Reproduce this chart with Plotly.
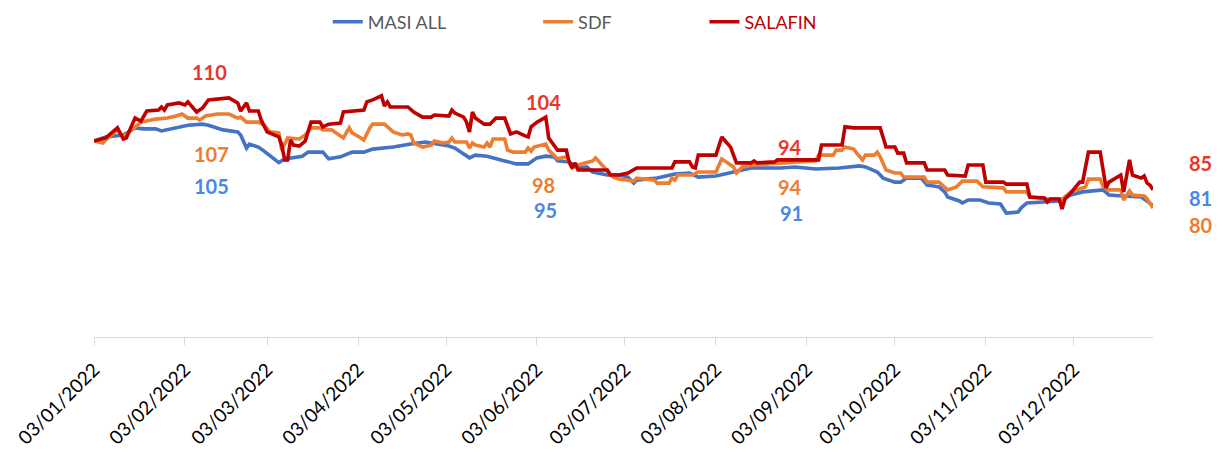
import plotly.graph_objects as go

# ---------------- data ----------------
tick_dates = ["2022-%02d-03" % m for m in range(1, 13)]
tick_labels = ["03/%02d/2022" % m for m in range(1, 13)]

masi_dates = ["2022-01-03","2022-01-07","2022-01-13","2022-01-17","2022-01-20","2022-01-24","2022-01-26","2022-01-31",
              "2022-02-04","2022-02-09","2022-02-11","2022-02-16","2022-02-21","2022-02-22","2022-02-24","2022-02-25","2022-02-28",
              "2022-03-02","2022-03-04","2022-03-07","2022-03-09","2022-03-15","2022-03-17","2022-03-22","2022-03-24","2022-03-28",
              "2022-04-01","2022-04-05","2022-04-08","2022-04-15","2022-04-21","2022-04-26",
              "2022-05-02","2022-05-04","2022-05-06","2022-05-10","2022-05-11","2022-05-13","2022-05-17","2022-05-23","2022-05-27","2022-05-31",
              "2022-06-03","2022-06-06","2022-06-09","2022-06-10","2022-06-14","2022-06-17","2022-06-20","2022-06-22","2022-06-27",
              "2022-07-01","2022-07-04","2022-07-06","2022-07-07","2022-07-14","2022-07-19","2022-07-20","2022-07-25","2022-07-28",
              "2022-08-03","2022-08-09","2022-08-15","2022-08-19","2022-08-25","2022-08-30",
              "2022-09-06","2022-09-14","2022-09-21","2022-09-23","2022-09-27","2022-09-29",
              "2022-10-03","2022-10-05","2022-10-07","2022-10-12","2022-10-14","2022-10-18","2022-10-20","2022-10-21","2022-10-25","2022-10-26","2022-10-28",
              "2022-11-01","2022-11-04","2022-11-08","2022-11-10","2022-11-14","2022-11-15","2022-11-17","2022-11-23","2022-11-28",
              "2022-12-02","2022-12-06","2022-12-13","2022-12-15","2022-12-20","2022-12-26","2022-12-30"]
masi_values = [100.0,101.2,101.8,103.9,103.6,103.6,103.0,103.9,
               104.7,105.0,104.7,103.3,102.7,101.8,97.9,99.1,98.2,
               97.0,95.5,93.6,94.7,95.5,96.7,96.7,94.7,95.3,
               96.7,96.7,97.6,98.2,99.1,99.7,
               98.8,98.5,97.9,95.8,95.0,95.8,95.5,94.1,93.2,93.2,
               95.0,95.5,95.3,94.1,93.8,92.0,92.3,90.8,89.9,
               89.9,89.3,87.5,88.4,89.0,90.2,90.2,90.5,89.3,
               89.6,90.8,92.0,92.0,92.0,92.3,
               91.7,92.0,92.6,92.3,90.8,89.0,
               87.8,87.8,89.0,89.0,86.9,86.4,84.9,83.4,82.2,81.6,82.5,
               82.5,81.6,81.3,78.6,78.9,80.1,81.6,81.9,82.2,
               84.0,84.9,85.5,84.0,83.7,83.4,80.9]

sdf_dates = ["2022-01-03","2022-01-06","2022-01-07","2022-01-11","2022-01-13","2022-01-17","2022-01-19","2022-01-24","2022-01-28","2022-01-31",
             "2022-02-02","2022-02-04","2022-02-07","2022-02-08","2022-02-10","2022-02-14","2022-02-18","2022-02-21","2022-02-22","2022-02-24","2022-02-28",
             "2022-03-02","2022-03-04","2022-03-07","2022-03-08","2022-03-10","2022-03-14","2022-03-16","2022-03-18","2022-03-21","2022-03-22","2022-03-25","2022-03-29","2022-03-31",
             "2022-04-01","2022-04-04","2022-04-05","2022-04-07","2022-04-08","2022-04-12","2022-04-15","2022-04-18","2022-04-20","2022-04-21","2022-04-22","2022-04-25","2022-04-28","2022-04-29",
             "2022-05-02","2022-05-04","2022-05-05","2022-05-06","2022-05-10","2022-05-11","2022-05-12","2022-05-13","2022-05-16","2022-05-17","2022-05-18","2022-05-19","2022-05-23","2022-05-24","2022-05-26","2022-05-30","2022-05-31",
             "2022-06-01","2022-06-02","2022-06-06","2022-06-07","2022-06-10","2022-06-13","2022-06-15","2022-06-17","2022-06-22","2022-06-23","2022-06-27","2022-06-29",
             "2022-07-01","2022-07-04","2022-07-06","2022-07-07","2022-07-11","2022-07-13","2022-07-14","2022-07-18","2022-07-19","2022-07-20","2022-07-21","2022-07-26","2022-07-28",
             "2022-08-03","2022-08-05","2022-08-08","2022-08-09","2022-08-10","2022-08-12","2022-08-16","2022-08-25","2022-08-30",
             "2022-09-06","2022-09-07","2022-09-12","2022-09-13","2022-09-15","2022-09-16","2022-09-19","2022-09-20","2022-09-22","2022-09-23","2022-09-26","2022-09-27","2022-09-28","2022-09-30",
             "2022-10-03","2022-10-05","2022-10-06","2022-10-13","2022-10-14","2022-10-18","2022-10-20","2022-10-21","2022-10-24","2022-10-26","2022-10-31",
             "2022-11-02","2022-11-09","2022-11-10","2022-11-17","2022-11-18","2022-11-24","2022-11-29","2022-11-30",
             "2022-12-02","2022-12-07","2022-12-08","2022-12-12","2022-12-13","2022-12-15","2022-12-19","2022-12-20","2022-12-22","2022-12-23","2022-12-27","2022-12-28","2022-12-30"]
sdf_values = [100.0,99.4,100.3,103.3,101.2,104.2,105.6,106.5,106.8,107.4,
              108.0,106.8,106.8,106.2,107.4,108.0,108.0,106.8,107.1,105.6,105.6,
              104.7,102.7,102.4,97.3,100.9,100.6,101.8,103.9,103.9,103.3,103.3,100.9,103.9,
              102.4,100.9,100.3,103.9,105.0,105.0,102.7,101.8,102.1,101.8,99.4,98.2,98.8,100.0,
              99.4,99.7,100.9,99.7,99.7,97.9,99.4,98.8,98.2,99.4,98.2,100.6,100.6,97.3,96.7,96.7,97.9,
              97.0,98.2,99.1,97.3,94.7,95.3,92.0,92.9,94.1,95.0,91.1,89.3,
              88.7,88.4,88.1,89.0,88.7,88.4,87.5,87.5,89.0,88.4,89.9,89.9,90.8,
              90.8,94.7,92.9,92.3,90.5,92.3,92.9,93.5,93.8,
              94.1,95.8,95.8,97.3,97.3,98.2,97.6,96.4,94.4,95.8,95.8,96.7,95.3,91.4,
              90.5,90.5,89.3,89.3,87.8,87.8,86.4,85.5,86.4,88.1,88.1,
              86.4,86.1,84.9,84.9,83.4,82.8,82.8,83.4,
              84.9,86.4,88.7,88.7,86.4,85.5,85.5,82.5,85.2,84.0,83.7,82.8,80.1]

salafin_dates = ["2022-01-03","2022-01-07","2022-01-11","2022-01-13","2022-01-14","2022-01-17","2022-01-19","2022-01-21","2022-01-25","2022-01-26","2022-01-27","2022-01-28",
                 "2022-02-01","2022-02-03","2022-02-04","2022-02-07","2022-02-09","2022-02-11","2022-02-18","2022-02-21","2022-02-22","2022-02-24","2022-02-25","2022-02-28",
                 "2022-03-01","2022-03-03","2022-03-07","2022-03-08","2022-03-09","2022-03-10","2022-03-11","2022-03-12","2022-03-14","2022-03-16","2022-03-18","2022-03-21","2022-03-22","2022-03-24","2022-03-28","2022-03-29",
                 "2022-04-05","2022-04-06","2022-04-08","2022-04-11","2022-04-12","2022-04-13","2022-04-14","2022-04-20","2022-04-22","2022-04-25","2022-04-28","2022-04-29",
                 "2022-05-04","2022-05-05","2022-05-06","2022-05-09","2022-05-10","2022-05-11","2022-05-12","2022-05-13","2022-05-16","2022-05-18","2022-05-20","2022-05-23","2022-05-25","2022-05-27","2022-05-30","2022-05-31",
                 "2022-06-01","2022-06-03","2022-06-06","2022-06-07","2022-06-08","2022-06-10","2022-06-13","2022-06-14","2022-06-15","2022-06-16","2022-06-17","2022-06-27","2022-06-28",
                 "2022-07-01","2022-07-04","2022-07-06","2022-07-07","2022-07-19","2022-07-20","2022-07-25","2022-07-26","2022-07-27","2022-07-28",
                 "2022-08-03","2022-08-05","2022-08-08","2022-08-10","2022-08-15","2022-08-16","2022-08-17","2022-08-23","2022-08-24",
                 "2022-09-07","2022-09-08","2022-09-15","2022-09-16","2022-09-19","2022-09-28","2022-09-30",
                 "2022-10-03","2022-10-04","2022-10-06","2022-10-07","2022-10-13","2022-10-14","2022-10-20","2022-10-21","2022-10-27","2022-10-28",
                 "2022-11-02","2022-11-03","2022-11-09","2022-11-10","2022-11-17","2022-11-18","2022-11-23","2022-11-24","2022-11-25","2022-11-28","2022-11-29","2022-11-30",
                 "2022-12-02","2022-12-05","2022-12-06","2022-12-08","2022-12-12","2022-12-13","2022-12-14","2022-12-15","2022-12-19","2022-12-20","2022-12-22","2022-12-23","2022-12-26","2022-12-27","2022-12-28","2022-12-29","2022-12-30"]
salafin_values = [100.0,100.9,103.9,100.6,100.9,106.8,105.9,108.9,109.2,110.1,109.2,110.7,
                  111.3,110.7,111.6,108.6,109.8,112.2,112.8,111.3,108.9,111.3,108.9,108.9,
                  106.2,102.7,101.2,98.8,94.4,94.4,100.3,98.8,98.5,100.0,105.6,105.6,104.2,105.0,105.3,108.6,
                  109.2,111.6,112.2,113.4,110.4,111.6,110.1,110.1,108.6,107.1,107.1,107.7,
                  107.4,109.2,108.3,107.1,105.6,102.7,108.6,106.8,105.0,105.0,106.8,106.8,102.1,102.7,101.5,101.2,
                  104.2,105.6,107.1,100.9,99.7,97.3,97.3,93.8,92.0,93.5,91.4,91.4,89.9,
                  89.9,90.5,91.4,92.0,92.0,93.8,93.8,92.3,92.0,95.8,
                  95.8,101.2,98.2,93.5,93.5,94.1,93.5,93.8,94.4,
                  94.4,98.8,98.8,104.2,103.9,103.9,98.2,
                  98.2,96.4,96.4,93.5,93.5,91.4,91.4,89.9,89.6,92.9,
                  92.9,87.8,87.8,87.2,87.2,83.4,83.1,81.9,82.8,82.8,79.8,82.8,
                  84.6,87.8,87.8,96.7,96.7,90.8,86.1,87.8,89.9,84.9,94.4,89.9,89.0,89.6,87.5,86.9,85.5]

series_names = ["MASI ALL", "SDF", "SALAFIN"]
line_colors = ["#4472C4", "#ED7D31", "#C00000"]
label_colors = ["#4A86E8", "#ED7D31", "#E8382C"]

# value labels: (text, series index, x paper, y paper)
value_labels = [("110", 2, 0.1086, 0.9075), ("107", 1, 0.1105, 0.6267), ("105", 0, 0.1105, 0.5171),
                ("104", 2, 0.4249, 0.8048), ("98", 1, 0.4249, 0.5205), ("95", 0, 0.4268, 0.4349),
                ("94", 2, 0.6572, 0.6507), ("94", 1, 0.6572, 0.5137), ("91", 0, 0.6591, 0.4247),
                ("85", 2, 1.0453, 0.5959), ("81", 0, 1.0453, 0.4760), ("80", 1, 1.0453, 0.3836)]

# ---------------- figure ----------------
FONT = "Lato, 'Open Sans', sans-serif"
fig = go.Figure()
all_dates = [masi_dates, sdf_dates, salafin_dates]
all_vals = [masi_values, sdf_values, salafin_values]
legend_ids = ["legend", "legend2", "legend3"]
for i in range(3):
    fig.add_trace(go.Scatter(x=all_dates[i], y=all_vals[i], mode="lines", name=series_names[i],
                             line=dict(color=line_colors[i], width=3.6), legend=legend_ids[i],
                             showlegend=True))

annots = []
for txt, si, xp, yp in value_labels:
    annots.append(dict(text="<b>%s</b>" % txt, x=xp, y=yp, xref="paper", yref="paper",
                       showarrow=False, xanchor="center", yanchor="middle",
                       font=dict(family=FONT, size=20, color=label_colors[si])))

def leg(x, color):
    return dict(x=x, y=0.951, xref="container", yref="container",
                xanchor="left", yanchor="middle", orientation="h",
                bgcolor="rgba(0,0,0,0)", font=dict(family=FONT, size=18, color=color))

fig.update_layout(
    width=1223, height=450,
    margin=dict(l=94, r=70, t=45, b=113, autoexpand=False),
    showlegend=True,
    plot_bgcolor="white", paper_bgcolor="white",
    xaxis=dict(type="date", range=["2022-01-03", "2022-12-30"], tickvals=tick_dates, ticktext=tick_labels,
               tickangle=-45, showline=True, linecolor="#D9D9D9", linewidth=1.3,
               ticks="outside", ticklen=7, tickcolor="#D9D9D9", tickwidth=1.3,
               ticklabelstandoff=6,
               showgrid=False, zeroline=False, automargin=False,
               tickfont=dict(family=FONT, size=19, color="#000000")),
    yaxis=dict(visible=False, range=[41.84, 128.49]),
    legend=leg(0.268, "#595959"),
    legend2=leg(0.440, "#595959"),
    legend3=leg(0.576, "#C00000"),
    annotations=annots,
    hovermode=False,
)

fig.write_html("out.html", config={"displayModeBar": False},
               post_script="document.body.style.margin='0';")
